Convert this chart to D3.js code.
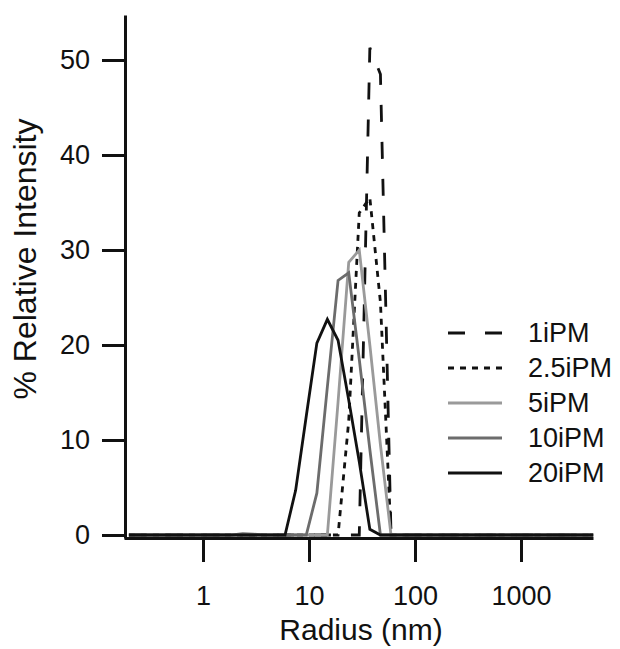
<!DOCTYPE html>
<html>
<head>
<meta charset="utf-8">
<script src="https://cdn.jsdelivr.net/npm/d3@7"></script>
<style>
  html, body { margin: 0; padding: 0; background: #fff; }
  svg { display: block; }
  text { font-family: "Liberation Sans", Arial, sans-serif; fill: #111; }
</style>
</head>
<body>
<svg id="chart" width="620" height="649"></svg>
<script>
// ---- data (radius in nm, % relative intensity) ----
const seriesNames = ["1iPM", "2.5iPM", "5iPM", "10iPM", "20iPM"];

const radius1iPM = [0.2, 29.8, 37.5, 47.2, 59.4, 4800];
const value1iPM  = [0,   0,    51.3, 48.5, 0,    0];

const radius2_5iPM = [0.2, 18.8, 23.7, 29.8, 37.5, 47.2, 59.4, 4800];
const value2_5iPM  = [0,   0,    12,   33.9, 35.5, 24.5, 0,    0];

const radius5iPM = [0.2, 14.9, 18.8, 23.7, 29.8, 37.5, 47.2, 59.4, 4800];
const value5iPM  = [0,   0,    14,   28.7, 30.0, 20,   9.5,  0,    0];

const radius10iPM = [0.2, 1.88, 2.37, 2.98, 3.75, 9.42, 11.86, 14.9, 18.8, 23.7, 29.8, 37.5, 47.2, 4800];
const value10iPM  = [0,   0,    0.15, 0.1,  0,    0,    4.4,   15.6, 26.8, 27.6, 18.5, 9,    0,    0];

const radius20iPM = [0.2, 5.94, 7.48, 9.42, 11.86, 14.9, 18.8, 23.7, 29.8, 37.5, 47.2, 4800];
const value20iPM  = [0,   0,    4.7,  12.5, 20.2,  22.7, 20.5, 14.2, 7.7,  0.6,  0,    0];

const xTickValues = [1, 10, 100, 1000];
const xTickLabels = ["1", "10", "100", "1000"];
const yTickValues = [0, 10, 20, 30, 40, 50];
const yTickLabels = ["0", "10", "20", "30", "40", "50"];

const xTitle = "Radius (nm)";
const yTitle = "% Relative Intensity";

// ---- styles ----
const styles = {
  "1iPM":   { color: "#111", dash: "17,20" },
  "2.5iPM": { color: "#111", dash: "6,6" },
  "5iPM":   { color: "#9a9a9a", dash: null },
  "10iPM":  { color: "#6c6c6c", dash: null },
  "20iPM":  { color: "#111", dash: null }
};

const series = [
  { name: "1iPM",   r: radius1iPM,   v: value1iPM },
  { name: "2.5iPM", r: radius2_5iPM, v: value2_5iPM },
  { name: "5iPM",   r: radius5iPM,   v: value5iPM },
  { name: "10iPM",  r: radius10iPM,  v: value10iPM },
  { name: "20iPM",  r: radius20iPM,  v: value20iPM }
];

const svg = d3.select("#chart");

// scales: 1 -> 203px, 10 -> 309px; 0 -> 535px, 50 -> 60px
const x = d3.scaleLog().domain([0.1797, 4780]).range([124, 593]);
const y = d3.scaleLinear().domain([-0.316, 54.74]).range([538, 15]);

// data lines
const line = d3.line()
  .x(d => x(d[0]))
  .y(d => y(d[1]));

svg.append("g").selectAll("path")
  .data(series)
  .join("path")
  .attr("d", s => line(s.r.map((r, i) => [r, s.v[i]])))
  .attr("fill", "none")
  .attr("stroke", s => styles[s.name].color)
  .attr("stroke-width", 2.8)
  .attr("stroke-dasharray", s => styles[s.name].dash)
  .attr("stroke-linejoin", "miter");

// x axis
const xAxis = d3.axisBottom(x)
  .tickValues(xTickValues)
  .tickFormat((d, i) => xTickLabels[i])
  .tickSize(24)
  .tickSizeOuter(0);

const gx = svg.append("g")
  .attr("transform", "translate(0,538)")
  .call(xAxis);
gx.select(".domain").attr("stroke", "#111").attr("stroke-width", 3);
gx.selectAll(".tick line").attr("stroke", "#111").attr("stroke-width", 3);
gx.selectAll(".tick text")
  .attr("y", 67).attr("dy", null)
  .style("font-size", "27px")
  .style("font-family", "'Liberation Sans', Arial, sans-serif")
  .attr("fill", "#111");

// y axis
const yAxis = d3.axisLeft(y)
  .tickValues(yTickValues)
  .tickFormat((d, i) => yTickLabels[i])
  .tickSize(23)
  .tickPadding(12)
  .tickSizeOuter(0);

const gy = svg.append("g")
  .attr("transform", "translate(125,0)")
  .call(yAxis);
gy.select(".domain").attr("stroke", "#111").attr("stroke-width", 3);
gy.selectAll(".tick line").attr("stroke", "#111").attr("stroke-width", 3);
gy.selectAll(".tick text")
  .style("font-size", "27px")
  .style("font-family", "'Liberation Sans', Arial, sans-serif")
  .attr("fill", "#111");

// axis titles
svg.append("text")
  .attr("x", 361)
  .attr("y", 640)
  .attr("text-anchor", "middle")
  .style("font-size", "30px")
  .text(xTitle);

svg.append("text")
  .attr("transform", "translate(36,259) rotate(-90)")
  .attr("text-anchor", "middle")
  .style("font-size", "32px")
  .text(yTitle);

// legend
const legendY = d3.scalePoint().domain(seriesNames).range([333, 473]);
const legend = svg.append("g");
const items = legend.selectAll("g")
  .data(seriesNames)
  .join("g")
  .attr("transform", d => `translate(0,${legendY(d)})`);
items.append("line")
  .attr("x1", 448).attr("x2", 502)
  .attr("y1", 0).attr("y2", 0)
  .attr("stroke", d => styles[d].color)
  .attr("stroke-width", 2.8)
  .attr("stroke-dasharray", d => styles[d].dash);
items.append("text")
  .attr("x", 528)
  .attr("dy", "0.35em")
  .style("font-size", "27px")
  .text(d => d);
</script>
</body>
</html>
